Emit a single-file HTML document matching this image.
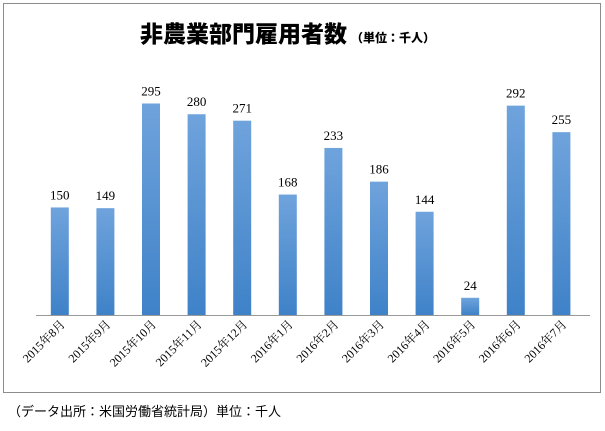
<!DOCTYPE html>
<html><head><meta charset="utf-8"><style>
body{margin:0;background:#fff;width:605px;height:426px;overflow:hidden;font-family:"Liberation Serif","Noto Serif CJK SC",serif}
</style></head><body>
<svg width="605" height="426">
<defs><linearGradient id="g" x1="0" y1="0" x2="0" y2="1"><stop offset="0" stop-color="#6fa3dc"/><stop offset="1" stop-color="#3f82c8"/></linearGradient></defs>
<rect x="3.5" y="3.5" width="597" height="389" fill="#fff" stroke="#8c8c8c"/>
<text x="140" y="42" font-family="'Noto Sans CJK JP',sans-serif" font-weight="900" font-size="23" fill="#000">非農業部門雇用者数<tspan font-size="12" dx="4">（単位：千人）</tspan></text>
<line x1="36" y1="315.5" x2="590" y2="315.5" stroke="#999"/>
<g id="bars"></g>
<text x="8" y="416" font-family="'Noto Sans CJK JP',sans-serif" font-size="13" fill="#000">（データ出所：米国労働省統計局）単位：千人</text>
</svg>
<script>
const categories=["2015年8月","2015年9月","2015年10月","2015年11月","2015年12月","2016年1月","2016年2月","2016年3月","2016年4月","2016年5月","2016年6月","2016年7月"];
const values=[150,149,295,280,271,168,233,186,144,24,292,255];
const x0=37,slot=45.6,base=315,scale=0.717,bw=18;
const xc=i=>x0+slot*(i+0.5);
const y=v=>base-v*scale;
const g=document.getElementById('bars');
const ns="http://www.w3.org/2000/svg";
values.forEach((v,i)=>{
 const r=document.createElementNS(ns,'rect');
 
 
 r.setAttribute('x',xc(i)-bw/2);r.setAttribute('y',y(v));r.setAttribute('width',bw);r.setAttribute('height',base-y(v));r.setAttribute('fill','url(#g)');
 g.appendChild(r);
 const t=document.createElementNS(ns,'text');
 
 
 t.setAttribute('x',xc(i));t.setAttribute('y',y(v)-8);t.setAttribute('text-anchor','middle');t.setAttribute('font-size','13');
 t.textContent=v;g.appendChild(t);
 const c=document.createElementNS(ns,'text');
 
 
 const cx=xc(i)+6,cy=base+10;
 c.setAttribute('x',cx);c.setAttribute('y',cy);c.setAttribute('text-anchor','end');c.setAttribute('font-size','12');
 c.setAttribute('transform','rotate(-45 '+cx+' '+cy+')');
 c.textContent=categories[i];g.appendChild(c);
});
</script>
</body></html>
